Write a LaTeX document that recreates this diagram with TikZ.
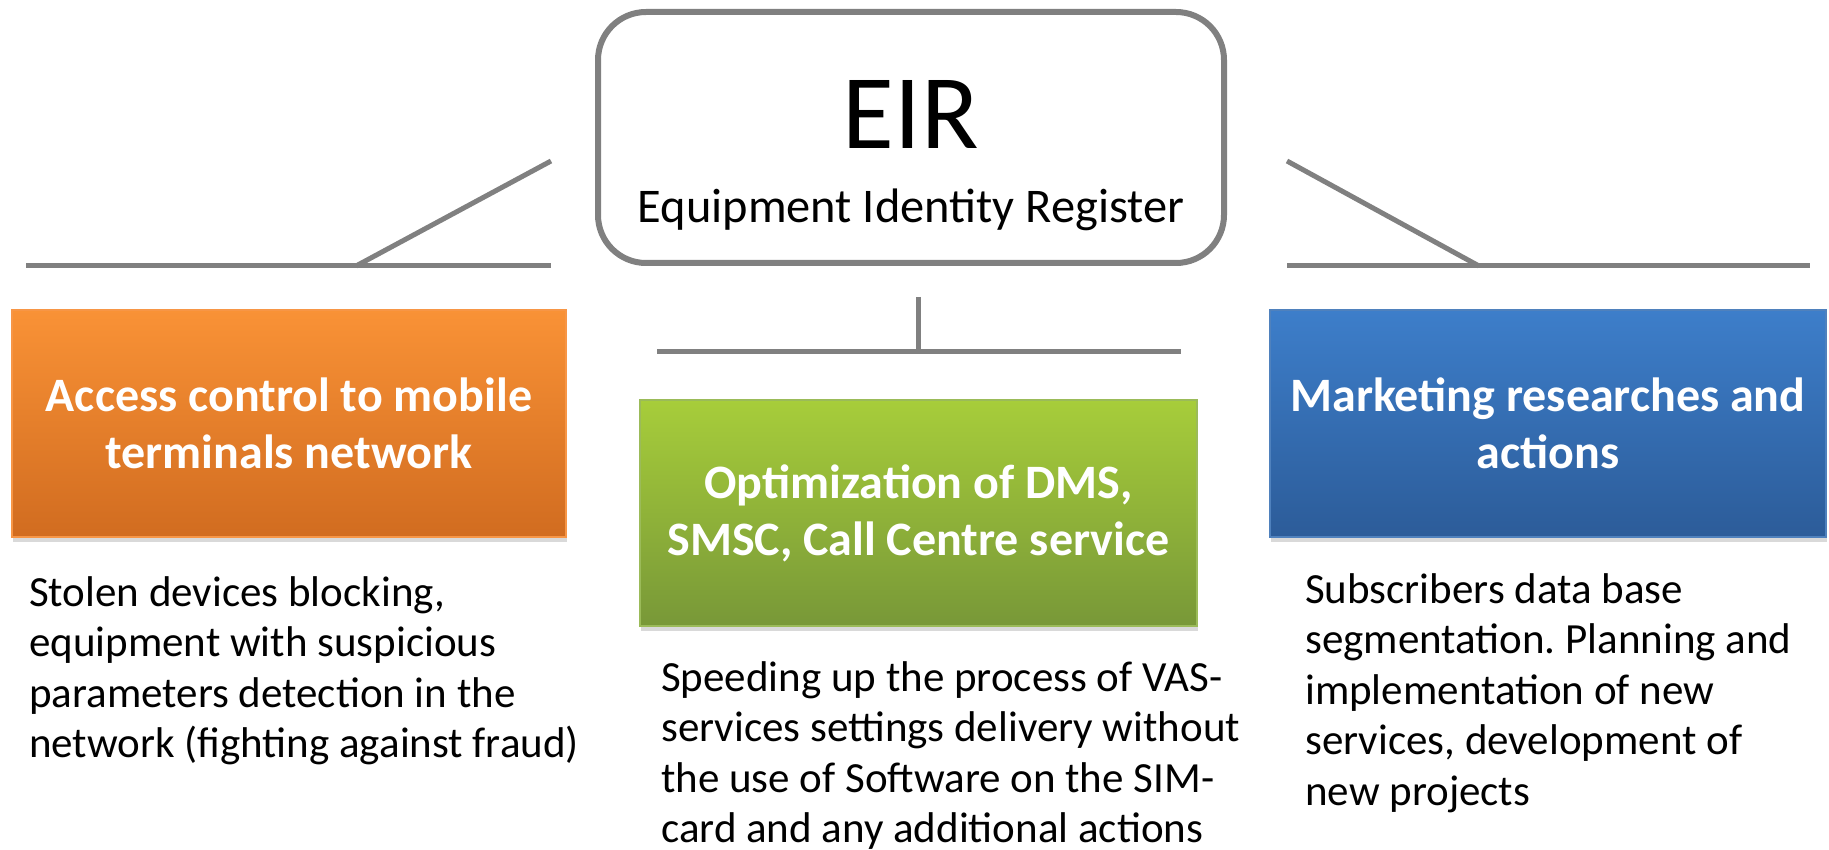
\documentclass[tikz,border=0pt]{standalone}
\usepackage{fontspec}
\setmainfont{Carlito}
\usetikzlibrary{positioning, shadows}
\frenchspacing

\definecolor{barGray}{RGB}{128,128,128}
\definecolor{orgTop}{RGB}{249,146,54}
\definecolor{orgBot}{RGB}{209,108,32}
\definecolor{orgLine}{RGB}{247,150,70}
\definecolor{grnTop}{RGB}{167,205,58}
\definecolor{grnBot}{RGB}{120,152,56}
\definecolor{grnLine}{RGB}{155,187,89}
\definecolor{bluTop}{RGB}{61,126,202}
\definecolor{bluBot}{RGB}{44,92,153}
\definecolor{bluLine}{RGB}{79,129,189}

\begin{document}
\begin{tikzpicture}[x=1pt, y=-1pt,
	bar/.style={draw=barGray, line width=5pt},
	hub/.style={draw=barGray, line width=6pt, rounded corners=48pt, fill=white, minimum width=626pt, minimum height=251pt},
	card/.style={rectangle, line width=1.5pt, minimum width=554pt, minimum height=227pt, align=center, text=white, font=\fontsize{48}{57}\selectfont\bfseries, drop shadow={shadow xshift=1pt, shadow yshift=-5pt, opacity=.3}},
	note/.style={anchor=north west, align=left, inner sep=0pt, font=\fontsize{43}{50.5}\selectfont}]
	\useasboundingbox (0,0) rectangle (1829,850);
	% register
	\node[hub] (eir) at (911,137.5) {};
	\node[anchor=base, font=\fontsize{106}{106}\selectfont] (eirT) at (911,149) {EIR};
	\node[anchor=base, font=\fontsize{48.4}{50}\selectfont] (eirS) at (911,223) {Equipment Identity Register};
	% bars
	\coordinate (lA) at (26,266); \coordinate (lB) at (551,266);
	\coordinate (lK) at (356,266); \coordinate (lT) at (551,161);
	\coordinate (rA) at (1287,266); \coordinate (rB) at (1810,266);
	\coordinate (rK) at (1479,266); \coordinate (rT) at (1287,161);
	\coordinate (cT) at (918,297); \coordinate (cK) at (918,352);
	\coordinate (cA) at (657,352); \coordinate (cB) at (1181,352);
	\draw[bar] (lA) -- (lB); \draw[bar] (lK) -- (lT);
	\draw[bar] (rA) -- (rB); \draw[bar] (rT) -- (rK);
	\draw[bar] (cA) -- (cB); \draw[bar] (cT) -- (cK);
	% cards
	\node[card, top color=orgTop, bottom color=orgBot, draw=orgLine] (acc) at (289,423.5) {Access control to mobile\\terminals network};
	\node[card, top color=grnTop, bottom color=grnBot, draw=grnLine, minimum width=557pt, minimum height=226pt] (opt) at (918.5,513) {Optimization of DMS,\\SMSC, Call Centre service};
	\node[card, top color=bluTop, bottom color=bluBot, draw=bluLine, minimum width=556pt] (mkt) at (1548,423.5) {Marketing researches and\\actions};
	% notes
	\node[note] (accN) at (29,576) {Stolen devices blocking,\\equipment with suspicious\\parameters detection in the\\network (fighting against fraud)};
	\node[note] (optN) at (661,661) {Speeding up the process of VAS-\\services settings delivery without\\the use of Software on the SIM-\\card and any additional actions};
	\node[note] (mktN) at (1305,573) {Subscribers data base\\segmentation. Planning and\\implementation of new\\services, development of\\new projects};
\end{tikzpicture}
\end{document}
